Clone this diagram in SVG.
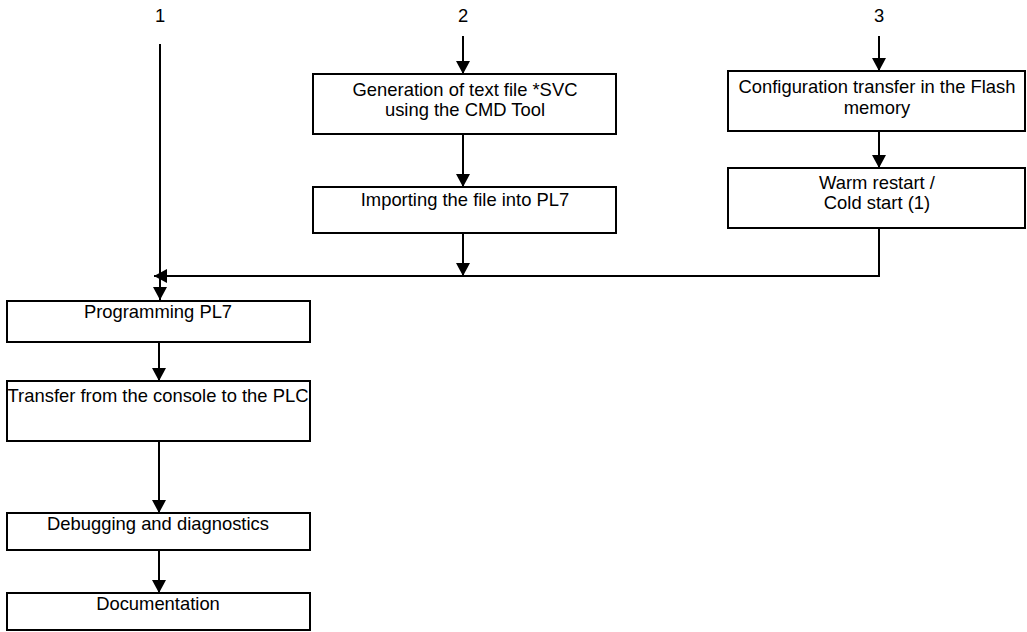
<svg xmlns="http://www.w3.org/2000/svg" width="1027" height="632" viewBox="0 0 1027 632">
<style>
.box{fill:#fff;stroke:#000;stroke-width:2}
.t{font-family:"Liberation Sans",Arial,sans-serif;font-size:18.4px;fill:#000;text-anchor:middle}
.c{fill:none;stroke:#000;stroke-width:2}
</style>
<defs>
<marker id="ah" markerUnits="userSpaceOnUse" markerWidth="14" markerHeight="14" refX="13" refY="7" orient="auto">
<path d="M0,0 L13,7 L0,14 z" fill="#000"/>
</marker>
</defs>
<rect width="1027" height="632" fill="#fff"/>
<g id="labels">
<text class="t" x="160" y="22">1</text>
<text class="t" x="463" y="22">2</text>
<text class="t" x="879" y="22">3</text>
</g>
<g id="connectors">
<line class="c" x1="160" y1="44" x2="160" y2="300" marker-end="url(#ah)"/>
<line class="c" x1="463" y1="36" x2="463" y2="74" marker-end="url(#ah)"/>
<line class="c" x1="463" y1="134" x2="463" y2="187" marker-end="url(#ah)"/>
<line class="c" x1="463" y1="233" x2="463" y2="276" marker-end="url(#ah)"/>
<line class="c" x1="879" y1="36" x2="879" y2="71" marker-end="url(#ah)"/>
<line class="c" x1="879" y1="131" x2="879" y2="168" marker-end="url(#ah)"/>
<polyline class="c" points="879,228 879,276 154,276" marker-end="url(#ah)"/>
<line class="c" x1="159" y1="342" x2="159" y2="381" marker-end="url(#ah)"/>
<line class="c" x1="159" y1="441" x2="159" y2="513" marker-end="url(#ah)"/>
<line class="c" x1="159" y1="550" x2="159" y2="593" marker-end="url(#ah)"/>
</g>
<g id="n-generation">
<rect class="box" x="313" y="74" width="303" height="60"/>
<text class="t" x="465" y="96">Generation of text file *SVC</text>
<text class="t" x="465" y="116">using the CMD Tool</text>
</g>
<g id="n-import">
<rect class="box" x="313" y="187" width="303" height="46"/>
<text class="t" x="465" y="206">Importing the file into PL7</text>
</g>
<g id="n-config">
<rect class="box" x="728" y="71" width="297" height="60"/>
<text class="t" x="877" y="93">Configuration transfer in the Flash</text>
<text class="t" x="877" y="114">memory</text>
</g>
<g id="n-restart">
<rect class="box" x="728" y="168" width="297" height="60"/>
<text class="t" x="877" y="189">Warm restart /</text>
<text class="t" x="877" y="209">Cold start (1)</text>
</g>
<g id="n-programming">
<rect class="box" x="7" y="301" width="303" height="41"/>
<text class="t" x="158" y="318">Programming PL7</text>
</g>
<g id="n-transfer">
<rect class="box" x="7" y="381" width="303" height="60"/>
<text class="t" x="158" y="402">Transfer from the console to the PLC</text>
</g>
<g id="n-debug">
<rect class="box" x="7" y="513" width="303" height="37"/>
<text class="t" x="158" y="530">Debugging and diagnostics</text>
</g>
<g id="n-doc">
<rect class="box" x="7" y="593" width="303" height="37"/>
<text class="t" x="158" y="610">Documentation</text>
</g>
</svg>
